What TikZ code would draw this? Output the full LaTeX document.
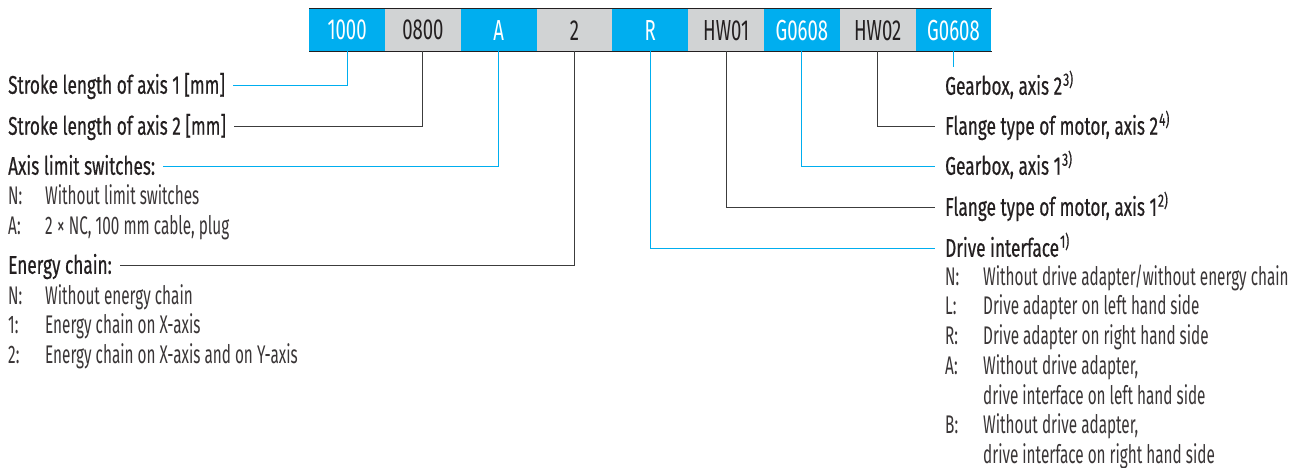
\documentclass[tikz,border=0pt]{standalone}
\usepackage{fontspec}
\newfontfamily\headfont[FakeStretch=0.675, FakeBold=0.5]{Fira Sans}
\newfontfamily\optfont[FakeStretch=0.6]{Fira Sans}
\newfontfamily\codefont[FakeStretch=0.64]{Fira Sans}
\definecolor{codeblue}{HTML}{00AEEF}
\definecolor{codegrey}{HTML}{D1D3D4}
\definecolor{ink}{HTML}{231F20}
\definecolor{leadgrey}{HTML}{3C3C3C}
\usetikzlibrary{positioning}

\begin{document}
\begin{tikzpicture}[x=1pt, y=-1pt,
  code/.style={minimum width=75.8pt, minimum height=42pt, inner sep=0pt, anchor=north west,
    font=\codefont\fontsize{29}{32}\selectfont},
  bluecode/.style={code, fill=codeblue, text=white},
  greycode/.style={code, fill=codegrey, text=ink},
  head/.style={anchor=west, inner sep=0pt, text height=17.5pt, text depth=0pt, text=ink,
    font=\headfont\fontsize{25.5}{30}\selectfont},
  opt/.style={anchor=west, inner sep=0pt, text height=17.5pt, text depth=0pt, text=ink!90,
    font=\optfont\fontsize{25.5}{30}\selectfont},
  blueline/.style={draw=codeblue, line width=0.9pt},
  darkline/.style={draw=leadgrey, line width=0.9pt},
  rule/.style={draw=ink, line width=1pt}
]
\useasboundingbox (0,0) rectangle (1306,468);
\foreach \txt/\sty [count=\i] in {1000/bluecode, 0800/greycode, A/bluecode, 2/greycode,
  R/bluecode, HW01/greycode, G0608/bluecode, HW02/greycode, G0608/bluecode}
  \node[\sty] (b\i) at ({309+75.8*(\i-1)},9) {\txt};
\draw[rule] (b1.north west) -- (b9.north east);
\draw[rule] (b1.south west) -- (b9.south east);

\node[head] (stroke1) at (8,85) {Stroke length of axis 1 [mm]};
\node[head] (stroke2) at (8,126) {Stroke length of axis 2 [mm]};
\node[head] (limit) at (8,166) {Axis limit switches:};
\node[opt] (limN) at (8,196) {N:};
\node[opt] at (45,196) {Without limit switches};
\node[opt] (limA) at (8,226) {A:};
\node[opt] at (45,226) {2\,×\,NC, 100\,mm cable, plug};
\node[head] (chain) at (8,265) {Energy chain:};
\foreach \k/\t/\y in {N:/Without energy chain/296, 1:/Energy chain on X-axis/325,
  2:/Energy chain on X-axis and on Y-axis/355} {
  \node[opt] at (8,\y) {\k};
  \node[opt] at (45,\y) {\t};
}

\node[head] (gear2) at (945,86) {Gearbox, axis 2\kern1pt\textsuperscript{3)}};
\node[head] (flange2) at (945,126) {Flange type of motor, axis 2\kern1pt\textsuperscript{4)}};
\node[head] (gear1) at (945,166) {Gearbox, axis 1\kern1pt\textsuperscript{3)}};
\node[head] (flange1) at (945,207) {Flange type of motor, axis 1\kern1pt\textsuperscript{2)}};
\node[head] (drive) at (945,248) {Drive interface\kern1pt\textsuperscript{1)}};
\foreach \k/\t/\y in {N:/Without drive adapter\slash without energy chain/277,
  L:/Drive adapter on left hand side/306, R:/Drive adapter on right hand side/336,
  A:/{Without drive adapter,}/366, /drive interface on left hand side/396,
  B:/{Without drive adapter,}/425, /drive interface on right hand side/455} {
  \node[opt] at (945,\y) {\k};
  \node[opt] at (983,\y) {\t};
}

\draw[blueline] (b1.south) |- ([xshift=8pt]stroke1.east);
\draw[darkline] (b2.south) |- ([xshift=8pt]stroke2.east);
\draw[blueline] (b3.south) |- ([xshift=8pt]limit.east);
\draw[darkline] (b4.south) |- ([xshift=8pt]chain.east);
\draw[blueline] (b5.south) |- ([xshift=-10pt]drive.west);
\draw[darkline] (b6.south) |- ([xshift=-10pt]flange1.west);
\draw[blueline] (b7.south) |- ([xshift=-10pt]gear1.west);
\draw[darkline] (b8.south) |- ([xshift=-10pt]flange2.west);
\draw[blueline] (b9.south) -- ++(0,16);
\end{tikzpicture}
\end{document}
